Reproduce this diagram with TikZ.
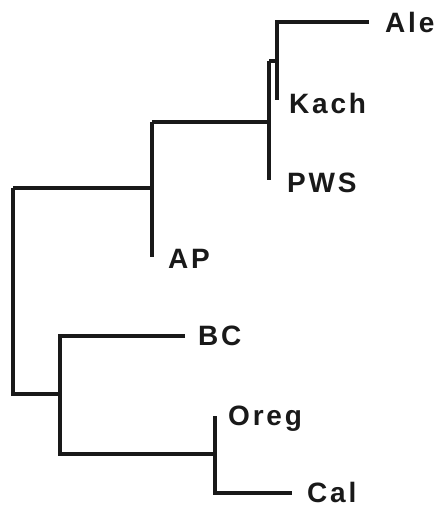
\documentclass[tikz,border=0pt]{standalone}
\usepackage{fontspec}
\newfontfamily\labfont{Liberation Sans}[UprightFont=*-Bold,LetterSpace=10]
\begin{document}
\begin{tikzpicture}[x=1pt,y=-1pt,
  branch/.style={line width=4pt,line join=miter,line cap=butt,black!90},
  lab/.style={anchor=base west,inner sep=0pt,font=\labfont\fontsize{28}{30}\selectfont,text=black!90}]
\useasboundingbox (0,0) rectangle (441,507);
% leaf tips
\coordinate (tAle) at (369,22);
\coordinate (tKach) at (277,100);
\coordinate (tPWS) at (269,180);
\coordinate (tAP) at (152,257);
\coordinate (tBC) at (185,336);
\coordinate (tOreg) at (215,416);
\coordinate (tCal) at (292,493);
% internal nodes
\coordinate (nAK) at (277,61);
\coordinate (nAKP) at (269,122);
\coordinate (nTop) at (152,188);
\coordinate (nOC) at (215,454);
\coordinate (nBOC) at (60,394);
\coordinate (root) at (13,291);
% labels
\node[lab] (Ale) at (385,32) {Ale};
\node[lab] (Kach) at (289,113) {Kach};
\node[lab] (PWS) at (287,192) {PWS};
\node[lab] (AP) at (168,268) {AP};
\node[lab] (BC) at (198,345) {BC};
\node[lab] (Oreg) at (228,425) {Oreg};
\node[lab] (Cal) at (307,502) {Cal};
% branches
\draw[branch] (tAle) -| (tKach);
\draw[branch] (nAKP |- nAK) -- (nAK);
\draw[branch] (nAKP |- nAK) -- (tPWS);
\draw[branch] (tAP |- nAKP) -- (nAKP);
\draw[branch] (tAP |- nAKP) -- (tAP);
\draw[branch] (root |- nTop) -- (tAP |- nTop);
\draw[branch] (root |- nTop) -- (root |- nBOC) -- (nBOC);
\draw[branch] (tBC) -- (nBOC |- tBC) -- (nBOC |- nOC) -- (nOC);
\draw[branch] (tOreg) -- (tOreg |- tCal) -- (tCal);
\end{tikzpicture}
\end{document}
